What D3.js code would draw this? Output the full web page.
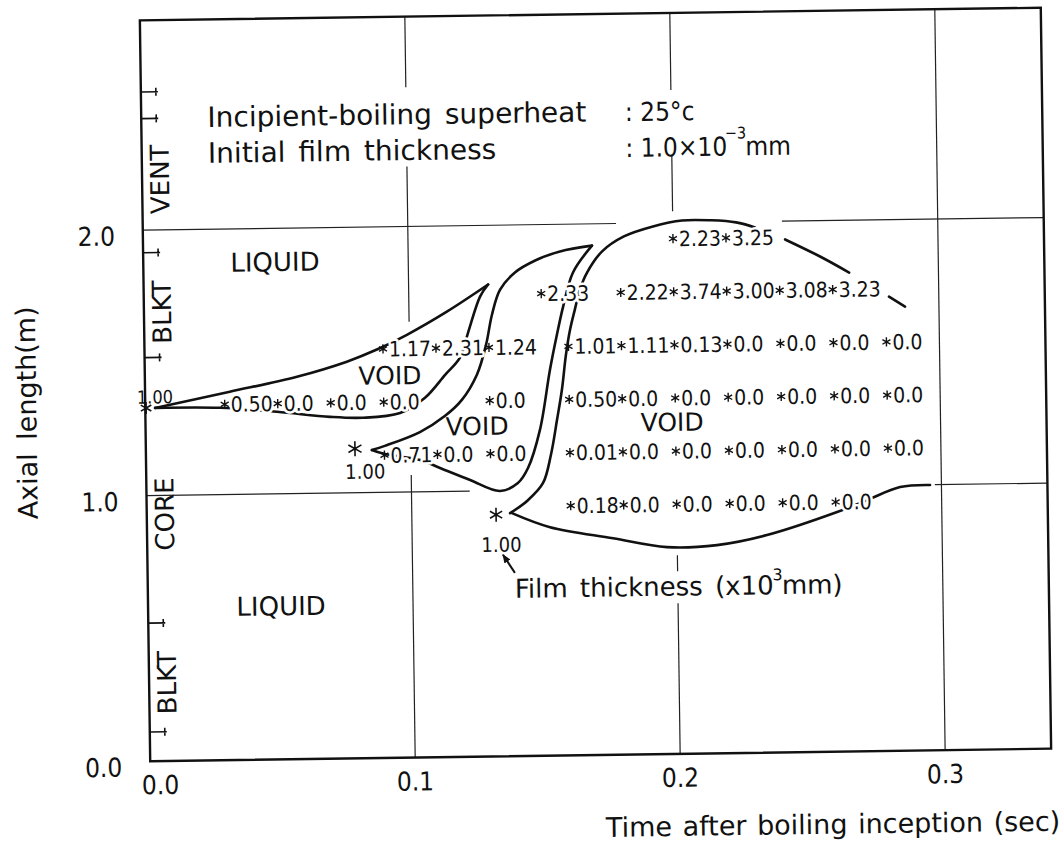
<!DOCTYPE html>
<html>
<head>
<meta charset="utf-8">
<script src="https://cdn.jsdelivr.net/npm/d3@7"></script>
<style>
  body { margin: 0; background: #fff; }
  svg { display: block; background: #fff; }
  text { font-family: "DejaVu Sans", sans-serif; fill: #111; }
  .num { font-family: "Liberation Sans Narrow", "DejaVu Sans Condensed", "DejaVu Sans", sans-serif; }
</style>
</head>
<body>
<svg id="chart" width="1064" height="848"></svg>
<script>
// axes: time after boiling inception (s) and axial length (m)
let tTicks = [0.0, 0.1, 0.2, 0.3];
let zTicks = [0.0, 1.0, 2.0];
let tickText = ["0.0", "0.1", "0.2", "0.3"];
let zTickText = ["0.0", "1.0", "2.0"];

// grid lines, with the parts that are actually drawn (the figure leaves them out inside the voids)
let gridT = [0.1, 0.2, 0.3];
let gridTShown = [
  [[0, 1.064], [1.641, 2.226], [2.524, 2.79]],
  [[0, 0.567], [0.688, 0.748], [2.043, 2.25], [2.50, 2.79]],
  [[0, 2.79]]
];
let gridZ = [1.0, 2.0];
let gridZShown = [
  [[0, 0.122], [0.2975, 0.34]],
  [[0, 0.1786], [0.2412, 0.34]]
];

// region boundaries on the axial axis
let regionTicks = [2.52, 2.42, 1.915, 1.52, 0.52, 0.11];
let regionNames = ["VENT", "BLKT", "CORE", "BLKT"];
let regionMid = [2.19, 1.69, 0.93, 0.295];

// void boundaries [time, axial]; null = pen lifted
let void1Upper = [[0.0037,1.330],[0.0320,1.387],[0.0574,1.440],[0.0763,1.494],[0.0877,1.538],[0.0991,1.592],[0.1143,1.677],[0.1300,1.777]];
let void1Lower = [[0.0037,1.330],[0.0282,1.327],[0.0497,1.309],[0.0697,1.287],[0.0821,1.282],[0.0961,1.298],[0.1056,1.354],[0.1133,1.439],[0.1190,1.503],[0.1222,1.597],[0.1269,1.732],[0.1300,1.777]];
let void2Upper = [[0.0853,1.160],[0.0902,1.175],[0.1035,1.225],[0.1131,1.285],[0.1195,1.344],[0.1253,1.438],[0.1289,1.550],[0.1313,1.663],[0.1345,1.757],[0.1402,1.821],[0.1479,1.865],[0.1573,1.898],[0.1694,1.918]];
let void2Lower = [[0.1694,1.918],[0.1621,1.818],[0.1582,1.690],[0.1557,1.584],[0.1529,1.453],[0.1488,1.227],[0.1441,1.084],[0.1402,1.028],[0.1334,0.999],[0.1222,1.042],[0.1109,1.089],[0.1034,1.120],[0.0902,1.144],[0.0853,1.160]];
let void3Upper = [[0.1371,0.915],[0.1439,0.963],[0.1497,1.027],[0.1528,1.132],[0.1553,1.264],[0.1573,1.377],[0.1590,1.508],[0.1607,1.603],[0.1626,1.678],[0.1646,1.753],[0.1674,1.817],[0.1732,1.896],[0.1815,1.951],[0.1925,1.987],[0.2035,2.008],[0.2145,2.007],[0.2239,1.998],[0.2310,1.978],null,[0.2423,1.931],[0.2554,1.865],[0.2663,1.803],null,[0.2812,1.710],[0.2872,1.672]];
let void3Lower = [[0.1378,0.915],[0.1521,0.860],[0.1758,0.815],[0.1961,0.779],[0.2150,0.784],[0.2339,0.819],[0.2605,0.902],[0.2718,0.945],[0.2844,0.993],[0.2957,0.999]];

// film thickness (x10^-3 mm) at mesh points, by row
let filmRowZ = [1.94, 1.74, 1.54, 1.34, 1.14, 0.94];
let filmRowT = [
  [0.20, 0.22],
  [0.15, 0.18, 0.20, 0.22, 0.24, 0.26],
  [0.09, 0.11, 0.13, 0.16, 0.18, 0.20, 0.22, 0.24, 0.26, 0.28],
  [0.03, 0.05, 0.07, 0.09, 0.13, 0.16, 0.18, 0.20, 0.22, 0.24, 0.26, 0.28],
  [0.09, 0.11, 0.13, 0.16, 0.18, 0.20, 0.22, 0.24, 0.26, 0.28],
  [0.16, 0.18, 0.20, 0.22, 0.24, 0.26]
];
let filmRowValue = [
  ["2.23", "3.25"],
  ["2.33", "2.22", "3.74", "3.00", "3.08", "3.23"],
  ["1.17", "2.31", "1.24", "1.01", "1.11", "0.13", "0.0", "0.0", "0.0", "0.0"],
  ["0.50", "0.0", "0.0", "0.0", "0.0", "0.50", "0.0", "0.0", "0.0", "0.0", "0.0", "0.0"],
  ["0.71", "0.0", "0.0", "0.01", "0.0", "0.0", "0.0", "0.0", "0.0", "0.0"],
  ["0.18", "0.0", "0.0", "0.0", "0.0", "0.0"]
];

// boiling inception points
let startT = [0.0003, 0.0789, 0.1318];
let startZ = [1.330, 1.166, 0.910];
let startText = ["1.00", "1.00", "1.00"];

// region words
let phaseText = ["LIQUID", "LIQUID", "VOID", "VOID", "VOID"];
let phaseT = [0.0497, 0.0502, 0.0925, 0.1251, 0.1987];
let phaseZ = [1.874, 0.578, 1.44, 1.245, 1.25];

const x = d3.scaleLinear().domain([0, 0.34]).range([145, 1046]);
const y = d3.scaleLinear().domain([0, 2.79]).range([755, 14]);

const svg = d3.select("#chart");
svg.append("defs").append("marker")
  .attr("id", "head").attr("viewBox", "0 0 10 10").attr("refX", 9).attr("refY", 5)
  .attr("markerWidth", 9).attr("markerHeight", 9).attr("markerUnits", "userSpaceOnUse")
  .attr("orient", "auto")
  .append("path").attr("d", "M0,1 L10,5 L0,9 Z").attr("fill", "#111");

// the scan is turned a little
const g = svg.append("g").attr("transform", "rotate(-0.8,595,385)");

// grid
gridT.forEach((t, i) => {
  g.selectAll(null).data(gridTShown[i]).enter().append("line")
    .attr("x1", x(t)).attr("x2", x(t))
    .attr("y1", d => y(d[0])).attr("y2", d => y(d[1]))
    .attr("stroke", "#222").attr("stroke-width", 1.2);
});
gridZ.forEach((z, i) => {
  g.selectAll(null).data(gridZShown[i]).enter().append("line")
    .attr("y1", y(z)).attr("y2", y(z))
    .attr("x1", d => x(d[0])).attr("x2", d => x(d[1]))
    .attr("stroke", "#222").attr("stroke-width", 1.2);
});

// frame
g.append("rect")
  .attr("x", x(0)).attr("y", y(2.79))
  .attr("width", x(0.34) - x(0)).attr("height", y(0) - y(2.79))
  .attr("fill", "none").attr("stroke", "#111").attr("stroke-width", 2.4);

// tick labels
g.selectAll(".xt").data(tTicks).enter().append("text")
  .attr("class", "num")
  .attr("x", (d, i) => x(d) + (i === 0 ? 10 : 0))
  .attr("y", y(0) + 33)
  .attr("text-anchor", "middle").attr("font-size", 26)
  .text((d, i) => tickText[i]);
g.selectAll(".yt").data(zTicks).enter().append("text")
  .attr("class", "num")
  .attr("x", x(0) - 28)
  .attr("y", d => y(d) + 15)
  .attr("text-anchor", "end").attr("font-size", 26)
  .text((d, i) => zTickText[i]);

// axis titles
g.append("text")
  .attr("x", 1054).attr("y", 837)
  .attr("text-anchor", "end").attr("font-size", 27).attr("word-spacing", 2)
  .text("Time after boiling inception (sec)");
g.append("text")
  .attr("transform", "translate(36,405) rotate(-90)")
  .attr("text-anchor", "middle").attr("font-size", 27).attr("word-spacing", 5)
  .text("Axial length(m)");

// region marks on the left axis
regionTicks.forEach(z => {
  g.append("path")
    .attr("d", `M${x(0)},${y(z)} h17 M${x(0) + 15},${y(z) - 4} v8`)
    .attr("stroke", "#111").attr("stroke-width", 1.6).attr("fill", "none");
});
g.selectAll(".region").data(regionNames).enter().append("text")
  .attr("transform", (d, i) => `translate(${x(0) + 27},${y(regionMid[i])}) rotate(-90)`)
  .attr("text-anchor", "middle").attr("font-size", 26)
  .text(d => d);

// void boundaries
const line = d3.line()
  .defined(d => d !== null)
  .x(d => x(d[0])).y(d => y(d[1]))
  .curve(d3.curveCatmullRom.alpha(0.5));
[void1Upper, void1Lower, void2Upper, void2Lower, void3Upper, void3Lower].forEach(c => {
  g.append("path").attr("d", line(c))
    .attr("fill", "none").attr("stroke", "#111").attr("stroke-width", 2.6)
    .attr("stroke-linejoin", "round").attr("stroke-linecap", "round");
});

function star(r) {
  const a = r * 0.87, b = r * 0.5;
  return `M0,${-r} V${r} M${-a},${-b} L${a},${b} M${-a},${b} L${a},${-b}`;
}

// film thickness labels
filmRowZ.forEach((z, i) => {
  const cell = g.selectAll(null).data(filmRowT[i]).enter().append("g")
    .attr("transform", t => `translate(${x(t)},${y(z)})`);
  cell.append("text")
    .attr("class", "num")
    .attr("x", 6).attr("dy", "0.36em").attr("font-size", 21)
    .attr("stroke", "#fff").attr("stroke-width", 5).attr("paint-order", "stroke")
    .attr("stroke-linejoin", "round")
    .text((t, j) => filmRowValue[i][j]);
  cell.append("path").attr("d", star(4.6))
    .attr("stroke", "#111").attr("stroke-width", 1.4);
});

// inception points
const startDx = [9, 10, 5], startDy = [-11, 23, 30], startSize = [6, 7.5, 7];
startT.forEach((t, i) => {
  g.append("path").attr("d", star(startSize[i]))
    .attr("transform", `translate(${x(t)},${y(startZ[i])})`)
    .attr("stroke", "#111").attr("stroke-width", 1.6);
  g.append("text").attr("class", "num")
    .attr("x", x(t) + startDx[i]).attr("y", y(startZ[i]) + startDy[i])
    .attr("dy", "0.36em").attr("text-anchor", "middle").attr("font-size", i === 0 ? 18 : 20)
    .text(startText[i]);
});

// LIQUID / VOID
g.selectAll(".phase").data(phaseText).enter().append("text")
  .attr("x", (d, i) => x(phaseT[i])).attr("y", (d, i) => y(phaseZ[i]))
  .attr("dy", "0.36em").attr("text-anchor", "middle")
  .attr("font-size", (d, i) => i < 2 ? 26 : 25)
  .text(d => d);

// conditions note
const noteT = 0.025, noteColonT = 0.1825, noteZ = [2.385, 2.25];
g.append("text").attr("x", x(noteT)).attr("y", y(noteZ[0])).attr("font-size", 28)
  .attr("word-spacing", 4).text("Incipient-boiling superheat");
g.append("text").attr("x", x(noteT)).attr("y", y(noteZ[1])).attr("font-size", 28)
  .attr("word-spacing", 4).text("Initial film thickness");
g.append("text").attr("class", "num").attr("x", x(noteColonT)).attr("y", y(noteZ[0]))
  .attr("font-size", 26).text(": 25°c");
const n2 = g.append("text").attr("class", "num").attr("x", x(noteColonT)).attr("y", y(noteZ[1]))
  .attr("font-size", 26);
n2.append("tspan").text(": 1.0×10");
n2.append("tspan").attr("dx", -2).attr("dy", -17).attr("font-size", 16).text("−3");
n2.append("tspan").attr("dx", -1).attr("dy", 17).text("mm");

// film thickness callout
const filmNoteT = 0.1385, filmNoteZ = 0.596;
const arrowFrom = [0.1386, 0.690], arrowTo = [0.1342, 0.759];
g.append("line")
  .attr("x1", x(arrowFrom[0])).attr("y1", y(arrowFrom[1]))
  .attr("x2", x(arrowTo[0])).attr("y2", y(arrowTo[1]))
  .attr("stroke", "#111").attr("stroke-width", 2).attr("marker-end", "url(#head)");
const fn = g.append("text").attr("x", x(filmNoteT)).attr("y", y(filmNoteZ))
  .attr("font-size", 26).attr("word-spacing", 4);
fn.append("tspan").text("Film thickness (x10");
fn.append("tspan").attr("dx", -1).attr("dy", -14).attr("font-size", 16).text("3");
fn.append("tspan").attr("dx", -1).attr("dy", 14).text("mm)");
</script>
</body>
</html>
